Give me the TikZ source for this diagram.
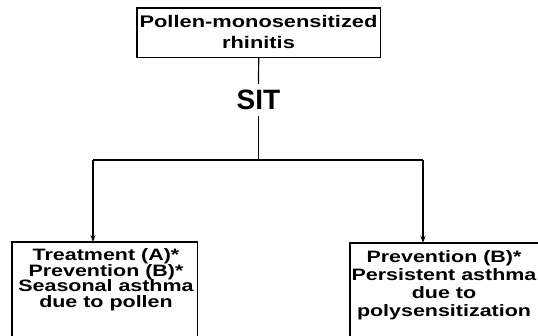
\documentclass[tikz,border=0pt]{standalone}
\usepackage{fontspec}
\setmainfont{Liberation Sans}
\newfontfamily\wideb[FakeStretch=1.3]{Liberation Sans Bold}
\newfontfamily\sitfont{Liberation Sans Bold}
\usetikzlibrary{arrows.meta}
\tikzset{
  edge/.style={line width=1.2pt, black},
  boxline/.style={line width=1.2pt, black},
  arr/.style={edge, -{Stealth[length=7pt,width=5pt]}},
  txt/.style={inner sep=0pt, align=center, anchor=north},
  boxnode/.style={draw=none, inner sep=0pt, anchor=north west}
}
\begin{document}
\begin{tikzpicture}[x=1pt,y=-1pt]
\useasboundingbox (0,0) rectangle (538,335);
\clip (0,0) rectangle (538,335);
% top box
\node[boxnode, minimum width=243pt, minimum height=49pt] (topbox) at (137,8) {};
\draw[boxline] (topbox.north west) rectangle (topbox.south east);
\node[txt, font={\wideb\fontsize{16.8}{21}\selectfont}] (toptext) at (258.5,15) {Pollen-monosensitized\\rhinitis};
% SIT
\node[inner ysep=6pt, inner xsep=2pt, font={\sitfont\fontsize{28}{30}\selectfont}] (sit) at (258.5,100) {SIT};
% split
\coordinate (s) at (258.5,160);
\coordinate (hl) at (93,160);
\coordinate (hr) at (423,160);
\draw[edge] (topbox.south) -- (sit.north);
\draw[edge] (sit.south) -- (s);
\draw[edge] (hl) -- (hr);
% bottom boxes
\node[boxnode, minimum width=185pt, minimum height=110pt] (lbox) at (12,242) {};
\node[boxnode, minimum width=200pt, minimum height=110pt] (rbox) at (350,243) {};
\draw[boxline] (lbox.south west) -- (lbox.north west) -- (lbox.north east) -- (lbox.south east);
\draw[boxline] (rbox.south west) -- (rbox.north west) -- (rbox.north east);
\node[txt, font={\wideb\fontsize{16.5}{15.6}\selectfont}] (ltext) at (106,248.5) {Treatment (A)*\\Prevention (B)*\\Seasonal asthma\\due to pollen};
\node[txt, font={\wideb\fontsize{16.5}{18}\selectfont}] (rtext) at (444,250.5) {Prevention (B)*\\Persistent asthma\\due to\\polysensitization};
% arrows
\draw[arr] (hl) -- (hl |- lbox.north);
\draw[arr] (hr) -- (hr |- rbox.north);
\end{tikzpicture}
\end{document}
